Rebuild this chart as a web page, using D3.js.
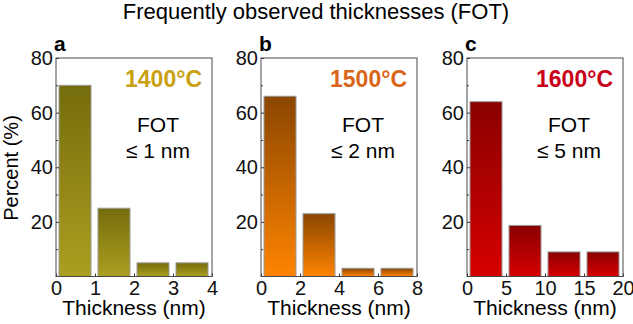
<html>
  <head>
    <meta charset="utf-8" />
    <script src="https://cdnjs.cloudflare.com/ajax/libs/d3/7.6.1/d3.min.js"></script>
    <style>
      body { margin: 0; background: #fff; }
      svg { font-family: "Liberation Sans", Arial, sans-serif; }
      .frame { fill: none; stroke: #4a4a4a; stroke-width: 1; }
      .tick line { stroke: #333; }
      .domain { display: none; }
      .bar { stroke: #9a9a9a; stroke-width: 1; }
    </style>
  </head>
  <body>
    <svg width="633" height="324"></svg>
  </body>

  <script>
    // panel data
    const panels = ["a", "b", "c"];
    const temps = ["1400°C", "1500°C", "1600°C"];
    const fot = ["≤ 1 nm", "≤ 2 nm", "≤ 5 nm"];
    const binEdges = [
      [0, 1, 2, 3, 4],
      [0, 2, 4, 6, 8],
      [0, 5, 10, 15, 20],
    ];
    const percents = [
      [70, 25, 5, 5],
      [66, 23, 3, 3],
      [64, 18.7, 9, 9],
    ];
    const yTicks = [20, 40, 60, 80];
    const yMinor = [10, 30, 50, 70];

    const tempColors = ["#c9a012", "#d9651a", "#c8001a"];
    const gradTop = ["#756c0c", "#8a4600", "#8a0000"];
    const gradBottom = ["#ab9f20", "#ff8400", "#d60000"];

    const panelLeft = [56, 261, 467];
    const panelW = 156;
    const plotTop = 58;
    const plotBottom = 276.5;

    const svg = d3.select("svg");
    const defs = svg.append("defs");

    svg.append("text")
      .attr("x", 316)
      .attr("y", 19)
      .attr("text-anchor", "middle")
      .attr("font-size", 22)
      .text("Frequently observed thicknesses (FOT)");

    const yScale = d3.scaleLinear().domain([0, 80]).range([plotBottom, plotTop]);

    panels.forEach((p, i) => {
      const edges = binEdges[i];
      const x0 = panelLeft[i];
      const xScale = d3.scaleLinear()
        .domain([edges[0], edges[edges.length - 1]])
        .range([x0, x0 + panelW]);

      const grad = defs.append("linearGradient")
        .attr("id", "g" + p)
        .attr("x1", 0).attr("y1", 0).attr("x2", 0).attr("y2", 1);
      grad.append("stop").attr("offset", "0%").attr("stop-color", gradTop[i]);
      grad.append("stop").attr("offset", "100%").attr("stop-color", gradBottom[i]);

      const g = svg.append("g");

      const bins = percents[i].map((v, j) => ({ x0: edges[j], x1: edges[j + 1], v: v }));
      g.selectAll("rect.bar")
        .data(bins)
        .enter()
        .append("rect")
        .attr("class", "bar")
        .attr("x", (d) => xScale(d.x0) + 3)
        .attr("width", (d) => xScale(d.x1) - xScale(d.x0) - 7)
        .attr("y", (d) => yScale(d.v))
        .attr("height", (d) => yScale(0) - yScale(d.v))
        .attr("fill", "url(#g" + p + ")");

      // axes
      const yAxis = d3.axisLeft(yScale).tickValues(yTicks).tickSize(-3).tickPadding(3);
      g.append("g")
        .attr("transform", `translate(${x0},0)`)
        .call(yAxis)
        .call((s) => s.selectAll("text").attr("font-size", 20).attr("fill", "#111"));
      g.append("g")
        .attr("transform", `translate(${x0},0)`)
        .call(d3.axisLeft(yScale).tickValues(yMinor).tickSize(-2).tickFormat(""));

      const xAxis = d3.axisBottom(xScale)
        .tickValues(edges)
        .tickFormat(d3.format("d"))
        .tickSize(-3)
        .tickPadding(4);
      g.append("g")
        .attr("transform", `translate(0,${plotBottom})`)
        .call(xAxis)
        .call((s) => s.selectAll("text").attr("font-size", 20).attr("fill", "#111"));

      g.append("rect")
        .attr("class", "frame")
        .attr("x", x0)
        .attr("y", plotTop)
        .attr("width", panelW)
        .attr("height", plotBottom - plotTop);

      g.append("text")
        .attr("x", x0 - 2)
        .attr("y", 51)
        .attr("font-size", 21)
        .attr("font-weight", "bold")
        .text(p);

      g.append("text")
        .attr("x", x0 + panelW - 10)
        .attr("y", 87)
        .attr("text-anchor", "end")
        .attr("font-size", 23)
        .attr("font-weight", "bold")
        .attr("fill", tempColors[i])
        .text(temps[i]);

      g.append("text")
        .attr("x", x0 + 102)
        .attr("y", 132)
        .attr("text-anchor", "middle")
        .attr("font-size", 21)
        .text("FOT");
      g.append("text")
        .attr("x", x0 + 102)
        .attr("y", 158)
        .attr("text-anchor", "middle")
        .attr("font-size", 21)
        .text(fot[i]);

      g.append("text")
        .attr("x", x0 + panelW / 2)
        .attr("y", 315)
        .attr("text-anchor", "middle")
        .attr("font-size", 21)
        .text("Thickness (nm)");
    });

    svg.append("text")
      .attr("transform", "translate(18,168) rotate(-90)")
      .attr("text-anchor", "middle")
      .attr("font-size", 20)
      .text("Percent (%)");
  </script>
</html>
